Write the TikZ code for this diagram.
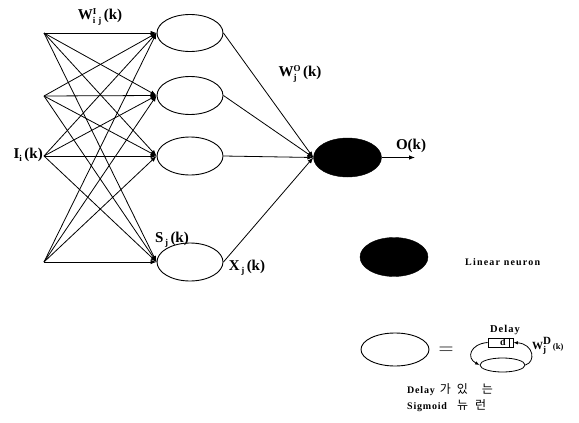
\documentclass[tikz,border=0pt]{standalone}
\usepackage{fontspec}
\setmainfont{Liberation Serif}
\newfontfamily\kr{Noto Sans CJK KR}
\usetikzlibrary{shapes.geometric,arrows.meta}
\newcommand{\ssb}[2]{\raisebox{-0.55ex}{\fontsize{9}{9}\selectfont\def\arraystretch{0.72}\begin{tabular}[b]{@{}l@{}}#1\\#2\end{tabular}}}
\newcommand{\sbb}[1]{\raisebox{-0.5ex}{\fontsize{9}{9}\selectfont #1}}
\begin{document}
\begin{tikzpicture}[x=1pt,y=-1pt,
  neuron/.style={ellipse,draw,line width=0.9pt,inner sep=0pt,minimum width=66pt,minimum height=38pt},
  lin/.style={ellipse,fill=black,draw,inner sep=0pt,minimum width=68pt,minimum height=39pt},
  conn/.style={line width=0.8pt,-{Latex[length=6pt,width=4.5pt]}},
  lbl/.style={font=\fontsize{15}{17}\selectfont\bfseries,inner sep=0pt},
  small/.style={font=\fontsize{10}{12}\selectfont\bfseries\addfontfeatures{LetterSpace=12},inner sep=0pt},
  krs/.style={font=\fontsize{10}{12}\selectfont\bfseries\addfontfeatures{LetterSpace=8},inner sep=0pt}]
\useasboundingbox (0,0) rectangle (579,423);
% inputs
\coordinate (i1) at (44,33);
\coordinate (i2) at (44,96);
\coordinate (i3) at (44,156);
\coordinate (i4) at (44,262);
% hidden
\node[neuron,minimum height=37pt] (h1) at (190,33) {};
\node[neuron] (h2) at (190,95.5) {};
\node[neuron] (h3) at (190,156) {};
\node[neuron] (h4) at (190,262) {};
% output
\node[lin] (o) at (347.5,157.5) {};
\coordinate (oe) at (415,157.5);
\foreach \i in {1,2,3,4}{
  \foreach \j in {1,2,3,4}{
    \draw[conn] (i\i) -- (h\j.west);
  }
  \draw[conn] (h\i.east) -- (o.west);
}
\draw[conn] (o.east) -- (oe);
% labels
\node[lbl] (lw) at (100,17) {W\ssb{I}{i\,\,j}\,(k)};
\node[lbl] (lwo) at (300,74) {W\ssb{O}{j}\,(k)};
\node[lbl,anchor=east] (li) at (43,155) {I\sbb{i}\,(k)};
\node[lbl] (ls) at (172,240) {S\sbb{\,j}\,(k)};
\node[lbl] (lx) at (247,268) {X\sbb{\,j}\,(k)};
\node[lbl] (lo) at (411,146) {O(k)};
% legend
\node[lin] (leg1) at (394,257) {};
\node[small,anchor=west] (leg1t) at (465,262) {Linear neuron};
\node[neuron,minimum width=68pt,minimum height=33pt] (leg2) at (395,349.5) {};
\node[font=\fontsize{20}{20}\selectfont,inner sep=0pt] (eq) at (446,351) {$=$};
\node[ellipse,draw,line width=0.8pt,inner sep=0pt,minimum width=45pt,minimum height=14pt] (se) at (502.5,365) {};
\node[draw,line width=0.8pt,inner sep=0pt,minimum width=25pt,minimum height=9pt] (box) at (500.5,342.5) {};
\draw[line width=0.8pt] ([xshift=-4pt]box.north east) -- ([xshift=-4pt]box.south east);
\node[font=\fontsize{10}{10}\selectfont\bfseries,inner sep=0pt] (bd) at (503,342) {d};
\node[font=\fontsize{10.5}{10}\selectfont\bfseries\addfontfeatures{LetterSpace=10},inner sep=0pt] (bl) at (505,330) {Delay};
\draw[line width=0.8pt,-{Latex[length=4.5pt,width=3.5pt]}] (se.east) .. controls (536,362) and (534,344) .. (box.east);
\draw[line width=0.8pt,-{Latex[length=4.5pt,width=3.5pt]}] (box.west) .. controls (470,344) and (466,358) .. (se.west);
\node[font=\fontsize{11}{12}\selectfont\bfseries,inner sep=0pt,anchor=west] (lwd) at (532,346) {W\ssb{\fontsize{11}{11}\selectfont D}{j}\,{\fontsize{8.5}{8}\selectfont(k)}};
\node[krs,anchor=west] (kr1) at (407,390) {Delay\hspace{5pt}{\kr\mdseries\fontsize{12}{12}\selectfont 가\hspace{6pt}있\hspace{14pt}는}};
\node[krs,anchor=west] (kr2) at (407,406) {Sigmoid\hspace{10pt}{\kr\mdseries\fontsize{12}{12}\selectfont 뉴\hspace{7pt}런}};
\end{tikzpicture}
\end{document}
